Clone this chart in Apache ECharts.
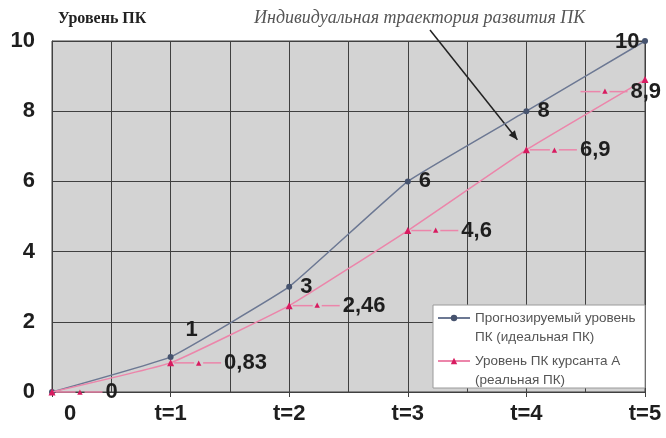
<!DOCTYPE html>
<html>
<head>
<meta charset="utf-8">
<script src="https://cdn.jsdelivr.net/npm/echarts@6/dist/echarts.min.js"></script>
<style>
  html, body { margin: 0; padding: 0; background: #ffffff; }
  #chart { width: 666px; height: 438px; }
</style>
</head>
<body>
<div id="chart"></div>
<script>
// Time points (t = 0 … 5) and their axis captions
const timePoints = [0, 1, 2, 3, 4, 5];
const timeLabels = ['0', 't=1', 't=2', 't=3', 't=4', 't=5'];

// Forecast (ideal) competence level
const idealLevel = [0, 1, 3, 6, 8, 10];
const idealLabels = ['', '1', '3', '6', '8', '10'];

// Actual competence level of cadet A
const realLevel = [0, 0.83, 2.46, 4.6, 6.9, 8.9];
const realLabels = ['0', '0,83', '2,46', '4,6', '6,9', '8,9'];

const seriesNames = [
  'Прогнозируемый уровень\nПК (идеальная ПК)',
  'Уровень ПК курсанта А\n(реальная ПК)'
];
const yTitle = 'Уровень ПК';
const noteText = 'Индивидуальная траектория развития ПК';

const idealColor = '#6c7893';
const idealMarker = '#46536e';
const realColor = '#ec85aa';
const realMarker = '#d81b60';

const chart = echarts.init(document.getElementById('chart'), null, { renderer: 'canvas' });

const idealData = timePoints.map((t, i) => [t, idealLevel[i]]);
const realData = timePoints.map((t, i) => [t, realLevel[i]]);

const sans = 'Liberation Sans, Arial, sans-serif';
const labelFont = { fontFamily: sans, fontSize: 22, fontWeight: 'bold', color: '#1e1e1e' };

const option = {
  animation: false,
  grid: {
    left: 52, right: 21, top: 41, bottom: 46,
    show: true, backgroundColor: '#d3d3d3', borderColor: '#404040', borderWidth: 1
  },
  xAxis: {
    type: 'value', min: 0, max: 5, interval: 1,
    axisLine: { show: true, lineStyle: { color: '#404040' } },
    axisTick: { show: true, length: 5, lineStyle: { color: '#404040' } },
    splitLine: { show: true, lineStyle: { color: '#404040', width: 1 } },
    minorTick: { show: false, splitNumber: 2 },
    minorSplitLine: { show: true, lineStyle: { color: '#404040', width: 1 } },
    axisLabel: {
      margin: 11,
      fontFamily: sans, fontSize: 22, fontWeight: 'bold', color: '#1e1e1e',
      formatter: v => {
        const i = timePoints.indexOf(v);
        if (i < 0) return '';
        return i === 0 ? '{z|' + timeLabels[i] + '}' : timeLabels[i];
      },
      rich: { z: { fontFamily: sans, fontSize: 22, fontWeight: 'bold', color: '#1e1e1e', padding: [0, 0, 0, 36] } }
    }
  },
  yAxis: {
    type: 'value', min: 0, max: 10, interval: 2,
    axisLine: { show: true, lineStyle: { color: '#404040' } },
    axisTick: { show: false },
    splitLine: { show: true, lineStyle: { color: '#404040', width: 1 } },
    axisLabel: {
      margin: 17, fontFamily: sans, fontSize: 22, fontWeight: 'bold', color: '#1e1e1e'
    }
  },
  legend: {
    orient: 'vertical', left: 437, top: 289.5,
    padding: 0, itemGap: -14,
    itemWidth: 32, itemHeight: 8,
    // a leading blank line keeps each key level with the first line of its caption
    formatter: name => '\n' + name,
    textStyle: { fontFamily: sans, fontSize: 13.5, color: '#555', lineHeight: 19 },
    data: [seriesNames[0], seriesNames[1]]
  },
  series: [
    {
      name: seriesNames[0], type: 'line', data: idealData, smooth: 0.1,
      symbol: 'circle', symbolSize: 6,
      lineStyle: { color: idealColor, width: 1.5 },
      itemStyle: { color: idealMarker },
      label: {
        show: true, ...labelFont,
        formatter: p => idealLabels[p.dataIndex],
        position: 'right', distance: 8
      },
      labelLayout: p => {
        const i = p.dataIndex;
        if (i === 1) return { dx: 4, dy: -27 };
        if (i === 5) return { dx: -41, dy: 1 };
        return {};
      },
      z: 3
    },
    {
      name: seriesNames[1], type: 'line', data: realData, smooth: 0.1,
      symbol: 'triangle', symbolSize: 7,
      lineStyle: { color: realColor, width: 1.5 },
      itemStyle: { color: realMarker },
      // each value carries a small legend key: line – marker – line
      label: {
        show: true, position: 'right', distance: 0,
        formatter: p => '{ln1|}{m|▲}{ln2|}{v|' + realLabels[p.dataIndex] + '}',
        rich: {
          ln1: { width: 20, height: 1.5, backgroundColor: realColor, verticalAlign: 'middle' },
          m: { color: realMarker, fontSize: 7, width: 9, align: 'center', fontFamily: 'DejaVu Sans, sans-serif', verticalAlign: 'middle' },
          ln2: { width: 18, height: 1.5, backgroundColor: realColor, verticalAlign: 'middle' },
          v: { ...labelFont, padding: [0, 0, 0, 3] }
        }
      },
      labelLayout: p => {
        if (p.dataIndex === 5) return { dx: -68, dy: 12 };
        return {};
      },
      z: 4
    }
  ]
};

chart.setOption(option);

// Caption above the plot, explanatory note with its arrow, and the legend frame
const tip = chart.convertToPixel({ gridIndex: 0 }, [realData[4][0], realData[4][1]]);
const arrowStart = [430, 30];
const arrowEnd = [tip[0] - 9, tip[1] - 10];
chart.setOption({
  graphic: [
    {
      type: 'rect', z: 1, silent: true,
      shape: { x: 433, y: 305, width: 212, height: 83 },
      style: { fill: '#ffffff', stroke: '#9a9a9a', lineWidth: 1 }
    },
    {
      type: 'text', left: 58, top: 11,
      style: { text: yTitle, font: 'bold 16px "Liberation Serif", "DejaVu Serif", serif', fill: '#222' }
    },
    {
      type: 'text', left: 254, top: 9,
      style: { text: noteText, font: 'italic 18px "Liberation Serif", "DejaVu Serif", serif', fill: '#555' }
    },
    {
      type: 'line',
      shape: { x1: arrowStart[0], y1: arrowStart[1], x2: arrowEnd[0], y2: arrowEnd[1] },
      style: { stroke: '#222', lineWidth: 1.5 }
    },
    {
      type: 'polygon',
      shape: (() => {
        const [x2, y2] = arrowEnd;
        const ang = Math.atan2(y2 - arrowStart[1], x2 - arrowStart[0]);
        const L = 9, W = 4;
        const bx = x2 - L * Math.cos(ang), by = y2 - L * Math.sin(ang);
        return { points: [[x2, y2], [bx - W * Math.sin(ang), by + W * Math.cos(ang)], [bx + W * Math.sin(ang), by - W * Math.cos(ang)]] };
      })(),
      style: { fill: '#222' }
    }
  ]
});
</script>
</body>
</html>
